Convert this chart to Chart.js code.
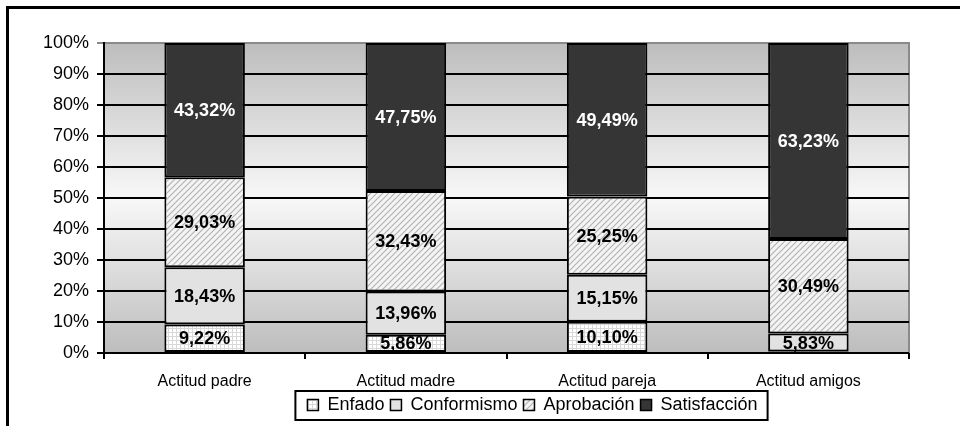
<!DOCTYPE html>
<html>
<head>
<meta charset="utf-8">
<script src="https://cdn.jsdelivr.net/npm/chart.js@4.4.1/dist/chart.umd.min.js"></script>
<style>
  html, body { margin: 0; padding: 0; background: #fff; }
  #wrap { position: relative; width: 960px; height: 426px; }
</style>
</head>
<body>
<div id="wrap"><canvas id="grafico"></canvas></div>
<script>
// dati
var categorie = ['Actitud padre', 'Actitud madre', 'Actitud pareja', 'Actitud amigos'];
var serie = ['Enfado', 'Conformismo', 'Aprobación', 'Satisfacción'];
var enfado = [9.22, 5.86, 10.10, 0.45];
var conformismo = [18.43, 13.96, 15.15, 5.83];
var aprobacion = [29.03, 32.43, 25.25, 30.49];
var satisfaccion = [43.32, 47.75, 49.49, 63.23];
var tickY = [0, 10, 20, 30, 40, 50, 60, 70, 80, 90, 100];

var fontBase = '"Liberation Sans", Arial, sans-serif';

function pattern(tipo) {
  var c = document.createElement('canvas');
  var ctx = c.getContext('2d');
  if (tipo === 'griglia') {
    c.width = 4; c.height = 4;
    ctx.fillStyle = '#ffffff';
    ctx.fillRect(0, 0, 4, 4);
    ctx.fillStyle = '#d8d8d8';
    ctx.fillRect(0, 0, 4, 1);
    ctx.fillRect(0, 0, 1, 4);
  } else {
    c.width = 6; c.height = 6;
    ctx.fillStyle = '#f4f4f4';
    ctx.fillRect(0, 0, 6, 6);
    ctx.strokeStyle = '#b4b4b4';
    ctx.lineWidth = 1.2;
    ctx.beginPath();
    ctx.moveTo(-1, 7); ctx.lineTo(7, -1);
    ctx.moveTo(-1, 1); ctx.lineTo(1, -1);
    ctx.moveTo(5, 7); ctx.lineTo(7, 5);
    ctx.stroke();
  }
  return ctx.createPattern(c, 'repeat');
}

var colori = [pattern('griglia'), '#e2e2e2', pattern('righe'), '#353535'];
var coloriTesto = ['#000', '#000', '#000', '#fff'];
var valori = [enfado, conformismo, aprobacion, satisfaccion];

var datasets = [];
for (var i = 0; i < serie.length; i++) {
  datasets.push({
    label: serie[i],
    data: valori[i],
    backgroundColor: colori[i],
    borderColor: '#000',
    borderWidth: 2,
    borderSkipped: false,
    barPercentage: 0.4,
    categoryPercentage: 1
  });
}

function formatta(v) {
  return v.toFixed(2).replace('.', ',') + '%';
}

// sfondo, bordo esterno e riquadro area
var sfondo = {
  id: 'sfondo',
  afterUpdate: function (chart) {
    // la legenda nell'originale e' spostata a destra
    var lg = chart.legend;
    lg.left += 78;
    lg.right += 78;
    lg.adjustHitBoxes();
  },
  beforeDraw: function (chart) {
    var ctx = chart.ctx, a = chart.chartArea;
    ctx.save();
    ctx.fillStyle = '#000';
    ctx.fillRect(6, 6, 954, 3);
    ctx.fillRect(6, 6, 3, 420);
    var g = ctx.createLinearGradient(0, a.top, 0, a.bottom);
    g.addColorStop(0, '#bdbdbd');
    g.addColorStop(0.5, '#f8f8f8');
    g.addColorStop(1, '#bdbdbd');
    ctx.fillStyle = g;
    ctx.fillRect(a.left, a.top, a.right - a.left, a.bottom - a.top);
    ctx.strokeStyle = '#8a8a8a';
    ctx.lineWidth = 2;
    ctx.strokeRect(a.left, a.top, a.right - a.left, a.bottom - a.top);
    ctx.restore();
  },
  afterDraw: function (chart) {
    var ctx = chart.ctx;
    // etichette dei valori
    ctx.save();
    ctx.font = 'bold 18px ' + fontBase;
    ctx.textAlign = 'center';
    ctx.textBaseline = 'middle';
    chart.data.datasets.forEach(function (ds, di) {
      var meta = chart.getDatasetMeta(di);
      meta.data.forEach(function (bar, j) {
        if (ds.data[j] < 2) return;
        ctx.fillStyle = coloriTesto[di];
        ctx.fillText(formatta(ds.data[j]), bar.x, (bar.y + bar.base) / 2 + 1);
      });
    });
    // riquadro della legenda
    var boxes = chart.legend.legendHitBoxes;
    if (boxes && boxes.length) {
      var l = boxes[0].left, r = boxes[boxes.length - 1].left + boxes[boxes.length - 1].width;
      ctx.strokeStyle = '#000';
      ctx.lineWidth = 2;
      ctx.strokeRect(l - 12, 391, r - l + 22, 29);
    }
    ctx.restore();
  }
};

new Chart(document.getElementById('grafico'), {
  type: 'bar',
  data: { labels: categorie, datasets: datasets },
  options: {
    responsive: true,
    maintainAspectRatio: false,
    animation: false,
    layout: { padding: { left: 0, right: 51, top: 43, bottom: 2 } },
    scales: {
      x: {
        stacked: true,
        afterFit: function (s) { s.height = 37; },
        grid: { display: true, drawOnChartArea: false, offset: true, color: '#000', lineWidth: 2, tickLength: 6 },
        border: { display: false },
        ticks: { color: '#000', padding: 13, font: { family: fontBase, size: 16 } }
      },
      y: {
        stacked: true,
        min: 0,
        max: 100,
        afterFit: function (s) { s.width = 104; },
        afterBuildTicks: function (s) { s.ticks = tickY.map(function (v) { return { value: v }; }); },
        grid: {
          color: function (c) { return c.tick && c.tick.value === 100 ? '#8a8a8a' : '#000'; },
          lineWidth: 2,
          tickLength: 7
        },
        border: { display: true, color: '#000', width: 2 },
        ticks: {
          color: '#000',
          padding: 8,
          font: { family: fontBase, size: 18 },
          callback: function (v) { return v + '%'; }
        }
      }
    },
    plugins: {
      legend: {
        position: 'bottom',
        labels: {
          color: '#000',
          boxWidth: 11,
          boxHeight: 11,
          padding: 6,
          font: { family: fontBase, size: 18 },
          generateLabels: function (chart) {
            return chart.data.datasets.map(function (ds, i) {
              return {
                text: ds.label,
                fillStyle: ds.backgroundColor,
                strokeStyle: '#000',
                lineWidth: 1.5,
                datasetIndex: i
              };
            });
          }
        }
      },
      tooltip: { enabled: false }
    }
  },
  plugins: [sfondo]
});
</script>
</body>
</html>
